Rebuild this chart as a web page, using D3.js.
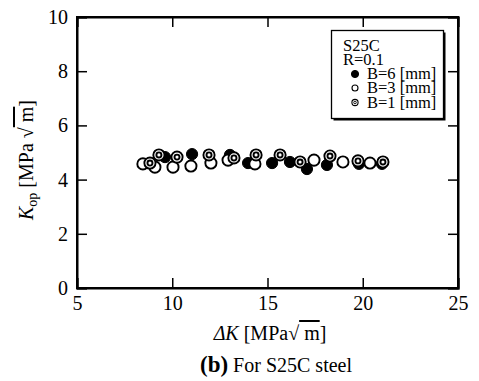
<!DOCTYPE html>
<html>
<head>
<meta charset="utf-8">
<script src="https://cdn.jsdelivr.net/npm/d3@7"></script>
<style>
  body { margin: 0; background: #fff; }
  text { font-family: "Liberation Serif", "Times New Roman", serif; fill: #000; }
</style>
</head>
<body>
<svg id="chart" width="479" height="381"></svg>
<script>
// Opening stress intensity factor vs. stress intensity range, S25C steel, R = 0.1
const dK_B6 = [9.62, 11.04, 13.03, 13.98, 15.24, 16.18, 17.07, 18.12, 19.80, 21.01];
const Kop_B6 = [4.83, 4.94, 4.91, 4.61, 4.61, 4.65, 4.39, 4.54, 4.58, 4.58];

const dK_B3 = [8.46, 9.09, 10.04, 10.98, 12.03, 12.93, 14.34, 17.44, 18.96, 20.38];
const Kop_B3 = [4.58, 4.46, 4.46, 4.50, 4.61, 4.72, 4.58, 4.72, 4.65, 4.61];

const dK_B1 = [8.83, 9.30, 10.25, 11.93, 13.24, 14.40, 15.66, 16.71, 18.28, 19.75, 21.06];
const Kop_B1 = [4.61, 4.91, 4.83, 4.91, 4.80, 4.91, 4.91, 4.65, 4.87, 4.69, 4.65];

const xTicks = [5, 10, 15, 20, 25];
const yTicks = [0, 2, 4, 6, 8, 10];
const legendLabels = ["B=6 [mm]", "B=3 [mm]", "B=1 [mm]"];

const svg = d3.select("#chart");
const L = 77, R = 458, T = 17, B = 288;
const x = d3.scaleLinear().domain([5, 25]).range([L, R]);
const y = d3.scaleLinear().domain([0, 10]).range([B, T]);
const tickLen = 10;

// Frame and inward ticks on all four sides
const g = svg.append("g");
g.append("g").attr("transform", `translate(0,${B})`)
  .call(d3.axisBottom(x).tickValues(xTicks).tickSize(-tickLen).tickPadding(8).tickFormat(d3.format("d")));
g.append("g").attr("transform", `translate(0,${T})`)
  .call(d3.axisTop(x).tickValues(xTicks).tickSize(-tickLen).tickFormat(""));
g.append("g").attr("transform", `translate(${L},0)`)
  .call(d3.axisLeft(y).tickValues(yTicks).tickSize(-tickLen).tickPadding(9).tickFormat(d3.format("d")));
g.append("g").attr("transform", `translate(${R},0)`)
  .call(d3.axisRight(y).tickValues(yTicks).tickSize(-tickLen).tickFormat(""));
g.selectAll(".domain").attr("stroke", "#000").attr("stroke-width", 2);
g.selectAll(".tick line").attr("stroke", "#000").attr("stroke-width", 1.5);
g.selectAll(".tick text")
  .style("font-family", "'Liberation Serif', serif").style("font-size", "20px").attr("fill", "#000");
svg.append("rect").attr("x", L).attr("y", T).attr("width", R - L).attr("height", B - T)
  .attr("fill", "none").attr("stroke", "#000").attr("stroke-width", 2);

// Markers
const r = 5.6;
function solid(sel) { sel.attr("fill", "#000").attr("stroke", "#000").attr("stroke-width", 1); }
function hollow(sel) { sel.attr("fill", "#fff").attr("stroke", "#000").attr("stroke-width", 1.9); }
function target(gsel, rr, sw) {
  gsel.append("circle").attr("r", rr).attr("fill", "#fff").attr("stroke", "#000").attr("stroke-width", sw);
  gsel.append("circle").attr("r", rr * 0.45).attr("fill", "#fff").attr("stroke", "#000").attr("stroke-width", sw);
}

const pts = (xs, ys) => xs.map((v, i) => [v, ys[i]]);

svg.append("g").selectAll("circle").data(pts(dK_B6, Kop_B6)).join("circle")
  .attr("cx", d => x(d[0])).attr("cy", d => y(d[1])).attr("r", r).call(solid);
svg.append("g").selectAll("circle").data(pts(dK_B3, Kop_B3)).join("circle")
  .attr("cx", d => x(d[0])).attr("cy", d => y(d[1])).attr("r", r).call(hollow);
svg.append("g").selectAll("g").data(pts(dK_B1, Kop_B1)).join("g")
  .attr("transform", d => `translate(${x(d[0])},${y(d[1])})`)
  .each(function () { target(d3.select(this), r, 1.9); });

// Legend box with drop shadow
const lg = svg.append("g");
lg.append("rect").attr("x", 333.5).attr("y", 32.5).attr("width", 112).attr("height", 88).attr("fill", "#000");
lg.append("rect").attr("x", 331.5).attr("y", 30.5).attr("width", 112).attr("height", 88)
  .attr("fill", "#fff").attr("stroke", "#000").attr("stroke-width", 1.3);
const fs = "16.5px";
lg.append("text").attr("x", 343).attr("y", 51).style("font-size", fs).text("S25C");
lg.append("text").attr("x", 343).attr("y", 65).style("font-size", fs).text("R=0.1");
const rowY = [79, 93, 107.5];
const lr = 3.3;
lg.append("circle").attr("cx", 355).attr("cy", rowY[0] - 5).attr("r", lr + 0.3).call(solid);
lg.append("circle").attr("cx", 355).attr("cy", rowY[1] - 5).attr("r", lr - 0.3)
  .attr("fill", "#fff").attr("stroke", "#000").attr("stroke-width", 1.1);
const lt = lg.append("g").attr("transform", `translate(355,${rowY[2] - 5})`);
lt.append("circle").attr("r", lr - 0.2).attr("fill", "#fff").attr("stroke", "#000").attr("stroke-width", 1.1);
lt.append("circle").attr("r", 1.3).attr("fill", "#fff").attr("stroke", "#000").attr("stroke-width", 0.9);
legendLabels.forEach((t, i) => {
  lg.append("text").attr("x", 367).attr("y", rowY[i]).style("font-size", fs).text(t);
});

// Axis titles
const xt = svg.append("text").attr("x", 270).attr("y", 340).attr("text-anchor", "middle").style("font-size", "20px");
xt.append("tspan").style("font-style", "italic").text("ΔK");
xt.append("tspan").text(" [MPa√");
xt.append("tspan").style("text-decoration", "overline").text(" m");
xt.append("tspan").text("]");

const yt = svg.append("text").attr("transform", "translate(33,160) rotate(-90)")
  .attr("text-anchor", "middle").style("font-size", "20px");
yt.append("tspan").style("font-style", "italic").text("K");
yt.append("tspan").attr("dy", 4).style("font-size", "14px").text("op");
yt.append("tspan").attr("dy", -4).text(" [MPa ");
yt.append("tspan").text("√");
yt.append("tspan").style("text-decoration", "overline").text(" m");
yt.append("tspan").text("]");

// Caption
const cap = svg.append("text").attr("x", 276).attr("y", 372).attr("text-anchor", "middle");
cap.append("tspan").style("font-weight", "bold").style("font-size", "23px").text("(b)");
cap.append("tspan").style("font-size", "20px").text(" For S25C steel");
</script>
</body>
</html>
